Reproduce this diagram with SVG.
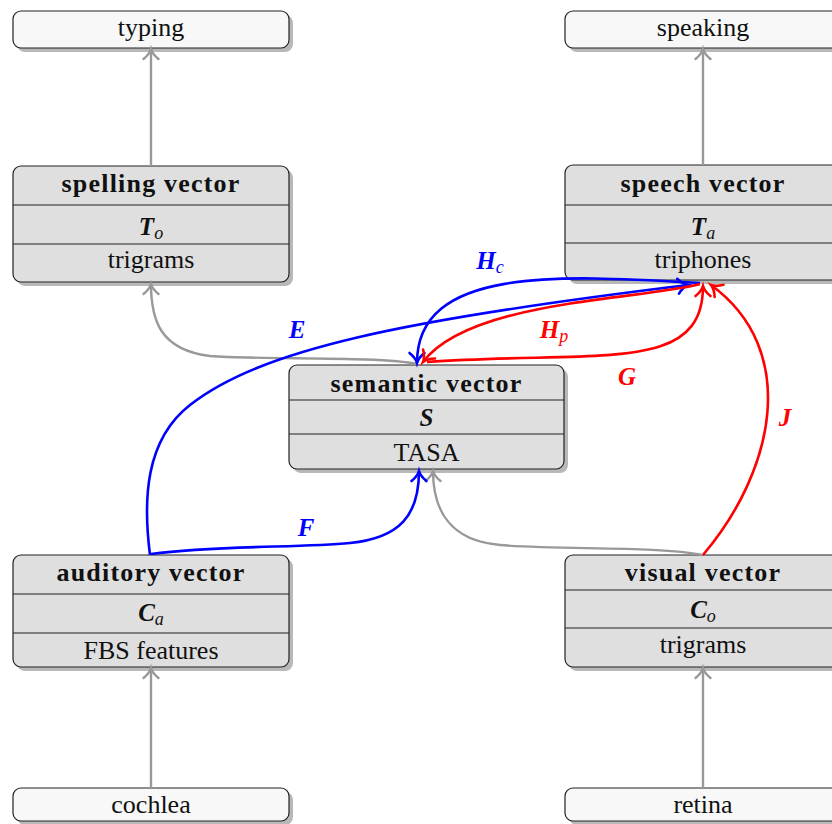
<svg xmlns="http://www.w3.org/2000/svg" width="832" height="824" viewBox="0 0 832 824">
<defs>
<style>
.box{fill:#dfdfdf;stroke:#222;stroke-width:1.2}
.io{fill:#f8f8f8;stroke:#222;stroke-width:1.2}
.sh{fill:#b8b8b8}
.dv{stroke:#222;stroke-width:1.2}
text{font-family:"Liberation Serif","DejaVu Serif","Times New Roman",serif;font-size:26px;fill:#111;text-anchor:middle}
.hd{font-weight:bold;font-size:26px;letter-spacing:1.2px}
.m{font-weight:bold;font-style:italic;font-size:25px}
.sub{font-style:italic;font-weight:normal;font-size:18px}
.gray{fill:none;stroke:#999;stroke-width:2.4}
.blue{fill:none;stroke:#0000ff;stroke-width:2.6}
.red{fill:none;stroke:#ff0000;stroke-width:2.6}
text.lb{fill:#0000ff}
text.lr{fill:#ff0000}
</style>
<marker id="ag" markerUnits="userSpaceOnUse" markerWidth="20" markerHeight="20" viewBox="-14 -10 20 20" refX="0" refY="0" orient="auto">
<path d="M-10,-7.5 C-6,-2.5 -2.5,-0.7 0,0 C-2.5,0.7 -6,2.5 -10,7.5" fill="none" stroke="#999" stroke-width="2.4" stroke-linecap="round"/>
</marker>
<marker id="ab" markerUnits="userSpaceOnUse" markerWidth="20" markerHeight="20" viewBox="-14 -10 20 20" refX="0" refY="0" orient="auto">
<path d="M-10,-7.5 C-6,-2.5 -2.5,-0.7 0,0 C-2.5,0.7 -6,2.5 -10,7.5" fill="none" stroke="#0000ff" stroke-width="2.6" stroke-linecap="round"/>
</marker>
<marker id="ar" markerUnits="userSpaceOnUse" markerWidth="20" markerHeight="20" viewBox="-14 -10 20 20" refX="0" refY="0" orient="auto">
<path d="M-10,-7.5 C-6,-2.5 -2.5,-0.7 0,0 C-2.5,0.7 -6,2.5 -10,7.5" fill="none" stroke="#ff0000" stroke-width="2.6" stroke-linecap="round"/>
</marker>
</defs>

<g font-family="'Liberation Serif','DejaVu Serif',serif">
<g id="typing">
<rect class="sh" x="17" y="15" width="276" height="37" rx="8"/>
<rect class="io" x="13" y="11" width="276" height="37" rx="8"/>
<text x="151" y="36">typing</text>
</g>
<g id="speaking">
<rect class="sh" x="569" y="15" width="276" height="37" rx="8"/>
<rect class="io" x="565" y="11" width="276" height="37" rx="8"/>
<text x="703" y="36">speaking</text>
</g>
<g id="spelling">
<rect class="sh" x="17" y="170" width="276" height="116" rx="8"/>
<rect class="box" x="13" y="166" width="276" height="116" rx="8"/>
<line class="dv" x1="13" y1="205" x2="289" y2="205"/>
<line class="dv" x1="13" y1="244" x2="289" y2="244"/>
<text class="hd" x="151" y="192">spelling vector</text>
<text x="151" y="235"><tspan class="m">T</tspan><tspan class="sub" dy="4">o</tspan></text>
<text x="151" y="268">trigrams</text>
</g>
<g id="speech">
<rect class="sh" x="569" y="169" width="276" height="115" rx="8"/>
<rect class="box" x="565" y="165" width="276" height="115" rx="8"/>
<line class="dv" x1="565" y1="205" x2="841" y2="205"/>
<line class="dv" x1="565" y1="243" x2="841" y2="243"/>
<text class="hd" x="703" y="192">speech vector</text>
<text x="703" y="235"><tspan class="m">T</tspan><tspan class="sub" dy="4">a</tspan></text>
<text x="703" y="268">triphones</text>
</g>
<g id="semantic">
<rect class="sh" x="293" y="369" width="275" height="104" rx="8"/>
<rect class="box" x="289" y="365" width="275" height="104" rx="8"/>
<line class="dv" x1="289" y1="400" x2="564" y2="400"/>
<line class="dv" x1="289" y1="434" x2="564" y2="434"/>
<text class="hd" x="426.5" y="392">semantic vector</text>
<text class="m" x="426.5" y="426">S</text>
<text x="426.5" y="461">TASA</text>
</g>
<g id="auditory">
<rect class="sh" x="17" y="559" width="276" height="112" rx="8"/>
<rect class="box" x="13" y="555" width="276" height="112" rx="8"/>
<line class="dv" x1="13" y1="594" x2="289" y2="594"/>
<line class="dv" x1="13" y1="633" x2="289" y2="633"/>
<text class="hd" x="151" y="581">auditory vector</text>
<text x="151" y="621"><tspan class="m">C</tspan><tspan class="sub" dy="4">a</tspan></text>
<text x="151" y="659">FBS features</text>
</g>
<g id="visual">
<rect class="sh" x="569" y="559" width="276" height="112" rx="8"/>
<rect class="box" x="565" y="555" width="276" height="112" rx="8"/>
<line class="dv" x1="565" y1="590" x2="841" y2="590"/>
<line class="dv" x1="565" y1="628" x2="841" y2="628"/>
<text class="hd" x="703" y="581">visual vector</text>
<text x="703" y="618"><tspan class="m">C</tspan><tspan class="sub" dy="4">o</tspan></text>
<text x="703" y="653">trigrams</text>
</g>
<g id="cochlea">
<rect class="sh" x="17" y="792" width="276" height="33" rx="8"/>
<rect class="io" x="13" y="788" width="276" height="33" rx="8"/>
<text x="151" y="813">cochlea</text>
</g>
<g id="retina">
<rect class="sh" x="569" y="792" width="276" height="33" rx="8"/>
<rect class="io" x="565" y="788" width="276" height="33" rx="8"/>
<text x="703" y="813">retina</text>
</g>

<g id="connectors">
<path class="gray" d="M151,166 L151,49" marker-end="url(#ag)"/>
<path class="gray" d="M703,165 L703,49" marker-end="url(#ag)"/>
<path class="gray" d="M151,788 L151,668" marker-end="url(#ag)"/>
<path class="gray" d="M703,788 L703,668" marker-end="url(#ag)"/>
<path class="gray" d="M417,364 C380,356 260,360 210,356 C160,350 151,320 151,284" marker-end="url(#ag)"/>
<path class="gray" d="M702,555 C660,546 560,550 500,545 C450,541 433,510 433,471" marker-end="url(#ag)"/>
<path class="blue" d="M151,554 C220,545 300,548 350,543 C400,538 419,515 419,471" marker-end="url(#ab)"/>
<path class="blue" d="M150,555 C143,500 145,440 190,405 C260,350 400,320 688,285" marker-end="url(#ab)"/>
<path class="blue" d="M700,283 C560,275 417,266 417,363" marker-end="url(#ab)"/>
<path class="red" d="M700,284 C640,300 470,300 423,362" marker-end="url(#ar)"/>
<path class="red" d="M427,362 C600,350 703,375 703,286" marker-end="url(#ar)"/>
<path class="red" d="M703,555 C775,470 800,350 711,285" marker-end="url(#ar)"/>
<text class="m lb" x="297" y="338">E</text>
<text class="m lb" x="306" y="536">F</text>
<text class="lb" x="490" y="269"><tspan class="m">H</tspan><tspan class="sub" dy="4">c</tspan></text>
<text class="lr" x="554" y="338"><tspan class="m">H</tspan><tspan class="sub" dy="4">p</tspan></text>
<text class="m lr" x="627" y="385">G</text>
<text class="m lr" x="785" y="426">J</text>
</g>
</g>
</svg>
